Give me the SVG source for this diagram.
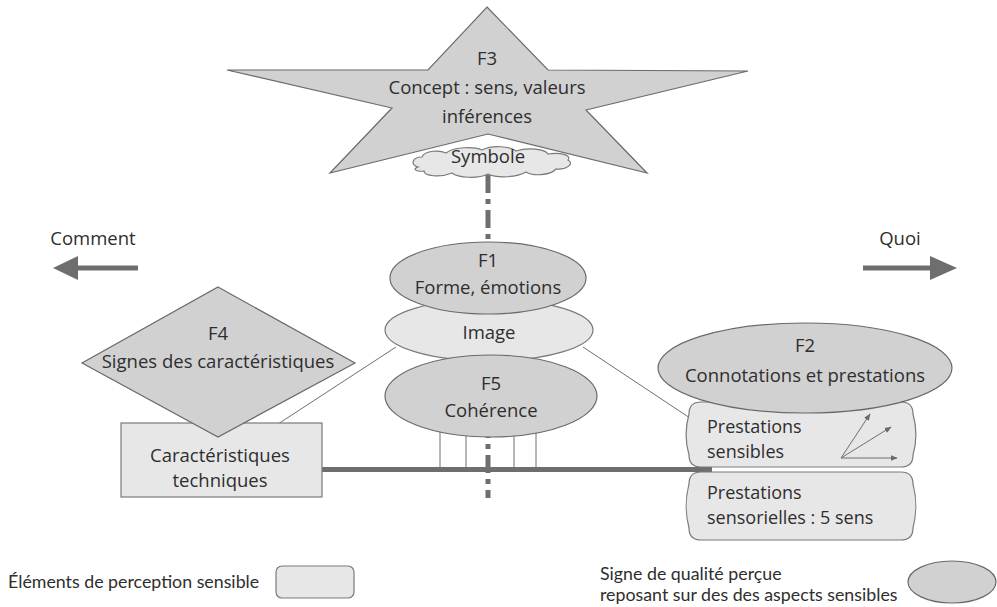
<svg xmlns="http://www.w3.org/2000/svg" width="997" height="607" viewBox="0 0 997 607">
  <style>
    text { font-family: "Open Sans", "Lato", "Liberation Sans", sans-serif; font-size: 18.5px; fill: #2e2e2e; text-anchor: middle; }
    .small { font-family: "Lato", "Liberation Sans", sans-serif; font-size: 17.8px; text-anchor: start; }
    .left { text-anchor: start; font-size: 18px; }
    .dark { fill: #d1d1d2; stroke: #6a6a6a; stroke-width: 1.2; }
    .light { fill: #e7e7e8; stroke: #7a7a7a; stroke-width: 1.2; }
    .thin { stroke: #6f6f6f; stroke-width: 1; fill: none; }
    .bar { stroke: #6e6e6e; stroke-width: 5; fill: none; }
    .axis { stroke: #6e6e6e; stroke-width: 5; fill: none; stroke-dasharray: 18 6 5 6; }
  </style>
  <defs>
    <marker id="tip" viewBox="0 0 10 10" refX="9" refY="5" markerWidth="7" markerHeight="7" orient="auto" markerUnits="userSpaceOnUse">
      <path d="M0,1 L10,5 L0,9 Z" fill="#6a6a6a"/>
    </marker>
  </defs>

  <rect width="997" height="607" fill="#ffffff"/>

  <!-- connectors -->
  <g id="connectors">
    <line class="axis" x1="488" y1="175" x2="488" y2="498"/>
    <line class="thin" x1="278" y1="424" x2="396" y2="347"/>
    <line class="thin" x1="583" y1="347" x2="690" y2="418"/>
    <line class="thin" x1="440" y1="430" x2="440" y2="469"/>
    <line class="thin" x1="466" y1="434" x2="466" y2="469"/>
    <line class="thin" x1="514" y1="434" x2="514" y2="469"/>
    <line class="thin" x1="536" y1="431" x2="536" y2="469"/>
    <line class="bar" x1="322" y1="469.5" x2="712" y2="469.5"/>
  </g>

  <!-- direction arrows -->
  <g id="comment">
    <text x="93" y="245">Comment</text>
    <line class="bar" x1="138" y1="268" x2="74" y2="268"/>
    <path d="M53,268 L78,256 L78,280 Z" fill="#6e6e6e"/>
  </g>
  <g id="quoi">
    <text x="900" y="245">Quoi</text>
    <line class="bar" x1="863" y1="268" x2="934" y2="268"/>
    <path d="M957,268 L930,256 L930,280 Z" fill="#6e6e6e"/>
  </g>

  <!-- F3 star with symbol cloud -->
  <g id="f3">
    <path class="light" d="M418,167 C410,165 412,157 422,157 C425,150 440,150 446,153 C455,146 475,147 482,150 C492,145 510,146 516,151 C528,147 545,149 548,154 C560,152 572,155 568,160 C575,164 566,170 556,169 C550,176 532,176 526,172 C516,178 496,178 488,174 C478,179 458,178 452,173 C440,178 424,176 424,171 C416,172 412,169 418,167 Z"/>
    <path class="dark" d="M487,7 L548,70 L748,71 L586,110 L647,173 L488,134 L330,173 L392,108 L227,70 L428,70 Z"/>
    <text x="487" y="65">F3</text>
    <text x="487" y="94">Concept : sens, valeurs</text>
    <text x="487" y="123">inférences</text>
    <text x="488" y="163">Symbole</text>
  </g>

  <!-- F4 diamond over technical characteristics -->
  <g id="tech">
    <rect class="light" x="121" y="423" width="201" height="74"/>
    <text x="220" y="462">Caractéristiques</text>
    <text x="220" y="487">techniques</text>
  </g>
  <g id="f4">
    <path class="dark" d="M218,287 L355,363 L218,437 L82,363 Z"/>
    <text x="218" y="340">F4</text>
    <text x="218" y="368">Signes des caractéristiques</text>
  </g>

  <!-- central stack: Image behind F1 and F5 -->
  <g id="image">
    <ellipse class="light" cx="489" cy="330" rx="104" ry="31"/>
    <text x="489" y="339">Image</text>
  </g>
  <g id="f5">
    <ellipse class="dark" cx="491" cy="396" rx="106" ry="41"/>
    <text x="491" y="390">F5</text>
    <text x="491" y="417">Cohérence</text>
  </g>
  <g id="f1">
    <ellipse class="dark" cx="488" cy="278" rx="98" ry="36"/>
    <text x="488" y="267">F1</text>
    <text x="488" y="294">Forme, émotions</text>
  </g>

  <!-- right column: performances and F2 -->
  <g id="sensorielles">
    <path class="light" d="M701,472 H901 Q913,472 913,484 C917,500 917,512 913,528 Q913,540 901,540 H701 Q689,540 689,528 C685,512 685,500 689,484 Q689,472 701,472 Z"/>
    <text class="left" x="707" y="499">Prestations</text>
    <text class="left" x="707" y="524">sensorielles : 5 sens</text>
  </g>
  <g id="sensibles">
    <path class="light" d="M701,402 H901 Q913,402 913,414 C917,428 917,441 913,455 Q913,467 901,467 H701 Q689,467 689,455 C685,441 685,428 689,414 Q689,402 701,402 Z"/>
    <text class="left" x="707" y="433">Prestations</text>
    <text class="left" x="707" y="458">sensibles</text>
    <line class="thin" x1="841" y1="458" x2="870" y2="414" marker-end="url(#tip)"/>
    <line class="thin" x1="841" y1="458" x2="891" y2="427" marker-end="url(#tip)"/>
    <line class="thin" x1="841" y1="458" x2="897" y2="458" marker-end="url(#tip)"/>
  </g>
  <g id="f2">
    <ellipse class="dark" cx="805" cy="368" rx="147" ry="45"/>
    <text x="805" y="352">F2</text>
    <text x="805" y="382">Connotations et prestations</text>
  </g>

  <!-- legend -->
  <g id="legend-element">
    <text class="small" x="8" y="588">Éléments de perception sensible</text>
    <rect class="light" x="276" y="566" width="78" height="32" rx="6"/>
  </g>
  <g id="legend-signe">
    <text class="small" x="600" y="580">Signe de qualité perçue</text>
    <text class="small" x="600" y="601">reposant sur des des aspects sensibles</text>
    <ellipse class="dark" cx="952" cy="582" rx="44" ry="21"/>
  </g>
</svg>
